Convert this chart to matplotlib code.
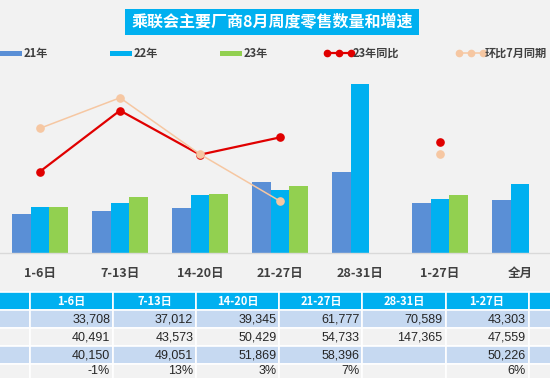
import numpy as np
import matplotlib
matplotlib.use("Agg")
import matplotlib.pyplot as plt
from matplotlib.patches import Rectangle
from matplotlib.lines import Line2D

plt.rcParams['font.family'] = ['Noto Sans CJK SC', 'DejaVu Sans']

# ---------------- data ----------------
categories = ["1-6日", "7-13日", "14-20日", "21-27日", "28-31日", "1-27日", "全月"]
series_names = ["21年", "22年", "23年"]
sales_21 = [33708, 37012, 39345, 61777, 70589, 43303, 46700]
sales_22 = [40491, 43573, 50429, 54733, 147365, 47559, 60400]
sales_23 = [40150, 49051, 51869, 58396, np.nan, 50226, np.nan]
line_names = ["23年同比", "环比7月同期"]
yoy_23 = [-0.8, 12.6, 2.9, 6.7, np.nan, 5.6, np.nan]          # %
mom_jul = [8.7, 15.4, 3.0, -7.3, np.nan, 3.0, np.nan]          # %
row_labels = ["21年", "22年", "23年", "同比"]
title = "乘联会主要厂商8月周度零售数量和增速"

# ---------------- style ----------------
BG = '#f2f2f2'
C21, C22, C23 = '#5a8fd6', '#00b0f0', '#92d050'
CRED, CORG = '#e00000', '#f6c7a2'
TXT = '#404040'

W, H = 550, 378
fig = plt.figure(figsize=(W / 100, H / 100), dpi=100, facecolor=BG)

# overlay axes in pixel coordinates (title, legend, table)
ov = fig.add_axes([0, 0, 1, 1])
ov.set_xlim(0, W)
ov.set_ylim(H, 0)
ov.axis('off')
ov.patch.set_visible(False)

# ---------------- main chart ----------------
base_y, top_y = 253, 60
ax = fig.add_axes([0, (H - base_y) / H, 560 / W, (base_y - top_y) / H])
ax.patch.set_visible(False)
x = np.arange(len(categories))
bw = 0.23
for off, vals, c in zip([-bw, 0, bw], [sales_21, sales_22, sales_23], [C21, C22, C23]):
    ax.bar(x + off, vals, width=bw, color=c, linewidth=0)
ax.set_xlim(-0.5, len(categories) - 0.5)
ax.set_ylim(0, 168500)
ax.set_yticks([])
for s in ['top', 'left', 'right']:
    ax.spines[s].set_visible(False)
ax.spines['bottom'].set_color('#d9d9d9')
ax.spines['bottom'].set_linewidth(1)
ax.set_xticks(x)
ax.set_xticklabels(categories, fontsize=9, fontweight='bold', color=TXT)
ax.tick_params(axis='x', length=0, pad=10)

ax2 = ax.twinx()
ax2.set_ylim(-18.7, 23.7)
ax2.set_yticks([])
for s in ax2.spines.values():
    s.set_visible(False)
ax2.plot(x, yoy_23, color=CRED, lw=1.6, marker='o', ms=5.2, mec=CRED, mfc=CRED)
ax2.plot(x, mom_jul, color=CORG, lw=1.1, marker='o', ms=5.2, mec=CORG, mfc=CORG)

# ---------------- title ----------------
ov.add_patch(Rectangle((125, 9), 294, 26, facecolor='#00b0f0', edgecolor='none'))
ov.text(272, 22.5, title, color='white', fontsize=11.5, fontweight='bold',
        ha='center', va='center')

# ---------------- legend ----------------
ly = 53
leg_patch_x = [0, 110, 220]
for lx, name, c in zip(leg_patch_x, series_names, [C21, C22, C23]):
    ov.add_patch(Rectangle((lx, ly - 2.5), 22, 5, facecolor=c, edgecolor='none'))
    ov.text(lx + 24, ly, name, fontsize=8, fontweight='bold', color=TXT,
            ha='left', va='center')
for lx, name, c, lw in zip([326, 458], line_names, [CRED, CORG], [1.6, 1.1]):
    ov.add_line(Line2D([lx, lx + 26], [ly, ly], color=c, lw=lw))
    ov.add_line(Line2D([lx + 1, lx + 13, lx + 25], [ly, ly, ly], color=c, lw=0,
                       marker='o', ms=4.5, mfc=c, mec=c))
    ov.text(lx + 27, ly, name, fontsize=8, fontweight='bold', color=TXT,
            ha='left', va='center')

# ---------------- table ----------------
col_w = 83.1
col_x0 = 30
head_top, head_h, row_h = 292.3, 18, 18
row_colors = ['#c6d9f1', BG, '#c6d9f1', BG]
table_rows = [sales_21, sales_22, sales_23, yoy_23]

# label column (mostly outside the crop)
ov.add_patch(Rectangle((col_x0 - 90, head_top), 90, head_h, facecolor='#00b0f0',
                       edgecolor='white', lw=1.2))
for r in range(len(row_labels)):
    ov.add_patch(Rectangle((col_x0 - 90, head_top + head_h + r * row_h), 90, row_h,
                           facecolor=row_colors[r], edgecolor='white', lw=1.2))

for ci, cat in enumerate(categories):
    cx = col_x0 + ci * col_w
    ov.add_patch(Rectangle((cx, head_top), col_w, head_h, facecolor='#00b0f0',
                           edgecolor='white', lw=1.2))
    if cx + col_w / 2 + 20 < W:
        ov.text(cx + col_w / 2, head_top + head_h / 2, cat, color='white',
                fontsize=8, fontweight='bold', ha='center', va='center')
    for r, vals in enumerate(table_rows):
        ry = head_top + head_h + r * row_h
        ov.add_patch(Rectangle((cx, ry), col_w, row_h, facecolor=row_colors[r],
                               edgecolor='white', lw=1.2))
        v = vals[ci]
        if np.isnan(v):
            continue
        s = f"{v:.0f}%" if r == 3 else f"{v:,.0f}"
        ty = min(ry + row_h / 2 + 0.5, 371.0)
        if cx + col_w - 3 <= W:
            ov.text(cx + col_w - 3, ty, s, fontsize=9,
                    family=['Liberation Sans', 'DejaVu Sans'], color='#262626',
                    ha='right', va='center')

fig.savefig('out.png', dpi=100, facecolor=BG)
